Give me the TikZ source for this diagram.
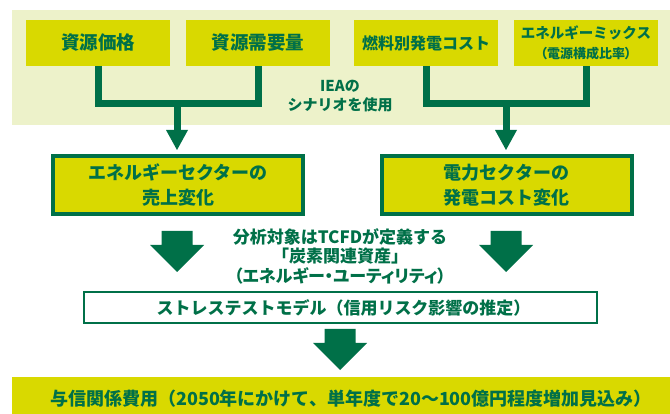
\documentclass[tikz,border=0pt]{standalone}
\usepackage{fontspec}
\setmainfont{Noto Sans CJK JP}
\newfontfamily\jpprop{Noto Sans CJK JP}[RawFeature=+palt]
\usetikzlibrary{arrows.meta,calc}
\definecolor{dkgreen}{RGB}{0,112,72}
\definecolor{ylw}{RGB}{217,217,0}
\definecolor{pale}{RGB}{237,242,202}
\newcommand{\fs}[2]{\fontsize{#1}{#2}\selectfont}
\tikzset{
  base/.style={inner sep=0pt, outer sep=0pt, font=\bfseries, text=dkgreen, align=center},
  topbox/.style={base, fill=ylw, minimum width=144pt, minimum height=46pt},
  midbox/.style={base, fill=ylw, draw=dkgreen, line width=4pt, minimum width=250pt, minimum height=58pt},
  stressbox/.style={base, fill=white, draw=dkgreen, line width=2pt, minimum width=513pt, minimum height=31pt},
  resultbox/.style={base, fill=ylw, minimum width=658pt, minimum height=44pt},
  bar/.style={draw=dkgreen, line width=7pt, line join=miter},
  head/.style={-{Triangle[length=20pt,width=22pt,line width=0pt]}, shorten >=6pt},
  fat/.pic={\fill[dkgreen] (-15.5,0) -- (15.5,0) -- (15.5,14) -- (27,14) -- (0,41) -- (-27,14) -- (-15.5,14) -- cycle;}
}
\begin{document}
\begin{tikzpicture}[x=1pt,y=-1pt]
\useasboundingbox (0,0) rectangle (670,414);
\fill[pale] (12,10) rectangle (670,125);

\node[topbox, font=\bfseries\fs{18.5}{22}] (r1) at (98,43) {資源価格};
\node[topbox, font=\bfseries\fs{18.5}{22}] (r2) at (258,43) {資源需要量};
\node[topbox, font=\bfseries\fs{16}{20}] (r3) at (426,43) {燃料別発電コスト};
\node[topbox, font=\bfseries\fs{14.5}{19.5}] (r4) at (586,43) {エネルギーミックス\\{\jpprop\bfseries\fs{13}{19.5}（電源構成比率）}};

\node[base, font=\bfseries\fs{15}{18.5}] (iea) at (340,96) {IEAの\\シナリオを使用};

\node[midbox, font=\bfseries\fs{18}{25}] (m1) at (178,185) {エネルギーセクターの\\売上変化};
\node[midbox, font=\bfseries\fs{18}{25}] (m2) at (506.5,185) {電力セクターの\\発電コスト変化};

\coordinate (j1) at (177,104);
\coordinate (j2) at (506,104);
\draw[bar] (r1.south) |- (j1) -| (r2.south);
\draw[bar] (r3.south) |- (j2) -| (r4.south);
\draw[bar, head] (j1) -- (j1 |- m1.north);
\draw[bar, head] (j2) -- (j2 |- m2.north);

\node[base, font=\bfseries\fs{17}{19.5}] (scope) at (340,256) {分析対象はTCFDが定義する\\「炭素関連資産」\\{\jpprop\bfseries（エネルギー・ユーティリティ）}};

\pic at (177,231) {fat};
\pic at (506,231) {fat};

\node[stressbox] (st) at (340.5,307.5) {};
\node[base, font=\bfseries\fs{17}{20}] (sttext) at (343.5,307.5) {ストレステストモデル（信用リスク影響の推定）};

\pic at (340,329) {fat};

\node[resultbox] (res) at (341,399) {};
\node[base, font=\bfseries\fs{18}{22}] (restext) at (351,399) {与信関係費用（2050年にかけて、単年度で20～100億円程度増加見込み）};
\end{tikzpicture}
\end{document}
